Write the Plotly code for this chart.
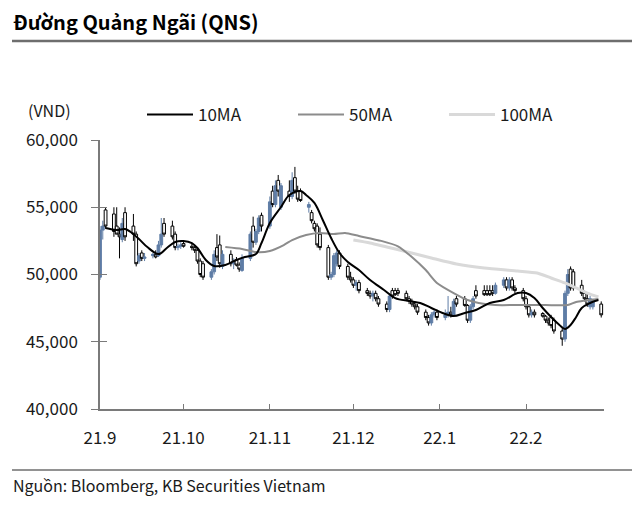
import pandas as pd
import plotly.graph_objects as go

FONT = "Noto Sans CJK KR"

# Trading days (weekdays) Sep 1 2021 - Feb 28 2022
dates = pd.bdate_range("2021-09-01", "2022-02-28")

# OHLC in thousand VND, one per weekday
open_k = [
    49.8, 53.3, 54.8, 54.5, 53.6, 53.0, 52.6, 54.6, 53.6, 53.0, 51.0, 51.6, 51.2, 51.4, 51.5, 51.4, 52.2, 53.8, 53.6, 53.0, 52.0, 52.1,
    52.3, 52.1, 52.0, 51.8, 51.0, 50.8, 49.8, 50.2, 52.0, 52.2, 50.6, 51.5, 50.8, 51.1, 50.7, 50.3, 51.2, 53.6, 52.4, 53.2, 54.4,
    53.6, 56.2, 55.2, 57.0, 55.0, 56.2, 55.8, 57.2, 56.2, 56.2, 55.0, 54.6, 53.8, 53.6, 53.0, 52.0, 49.8, 50.0, 50.8, 51.6, 50.6, 49.8,
    49.6, 49.2, 49.4, 48.8, 48.6, 48.4, 48.6, 48.2, 47.8, 47.4, 48.8, 48.8, 48.8, 48.6, 48.2, 48.0, 47.8, 47.6, 47.2, 46.8, 46.4, 47.0, 47.2,
    46.8, 47.0, 47.2, 47.0, 48.2, 48.2, 47.7, 46.6, 47.6, 48.8, 48.8, 48.8, 48.8, 48.8, 48.6, 49.2, 49.6, 49.0, 49.6, 49.0, 48.8,
    48.2, 47.6, 47.0, 47.2, 47.1, 46.9, 46.6, 46.8, 46.6, 45.8, 45.2, 48.6, 50.4, 50.2, 49.2, 48.6, 48.2, 47.6, 47.6, 47.8,
]
high_k = [
    53.6, 54.0, 55.0, 55.0, 55.0, 53.5, 54.2, 55.0, 54.5, 53.2, 51.6, 51.8, 51.6, 51.6, 51.8, 52.5, 54.2, 54.2, 54.0, 53.2, 52.3, 52.4,
    52.5, 52.3, 52.2, 51.9, 51.2, 51.0, 50.4, 51.8, 53.0, 52.9, 51.8, 51.8, 51.2, 51.3, 50.9, 51.5, 53.2, 54.3, 53.4, 54.4, 54.6,
    55.8, 56.6, 57.0, 57.4, 56.8, 57.0, 57.6, 58.0, 56.6, 56.4, 55.4, 54.8, 54.0, 53.8, 53.5, 52.2, 50.2, 51.6, 51.8, 51.8, 50.8, 50.2,
    49.8, 49.6, 49.6, 49.0, 48.8, 48.8, 48.8, 48.4, 48.0, 48.6, 49.0, 49.0, 49.0, 48.8, 48.4, 48.2, 48.0, 47.8, 47.4, 47.0, 47.2, 47.4, 47.4,
    47.4, 48.4, 47.6, 48.2, 48.4, 48.4, 47.8, 47.8, 48.4, 49.2, 49.2, 49.2, 49.2, 49.2, 49.4, 49.8, 49.8, 49.8, 49.8, 49.2, 49.0,
    48.4, 47.8, 47.4, 47.4, 47.2, 47.0, 46.8, 47.0, 46.8, 46.0, 48.8, 50.4, 50.6, 50.4, 49.6, 48.8, 48.6, 48.4, 48.2, 48.0,
]
low_k = [
    49.6, 52.6, 53.4, 52.8, 53.0, 51.2, 52.4, 52.5, 52.5, 50.6, 50.8, 51.0, 51.0, 51.2, 51.2, 51.3, 52.0, 52.8, 52.6, 51.8, 51.8, 51.9,
    52.0, 51.8, 51.6, 50.8, 49.8, 49.6, 49.6, 50.0, 51.0, 50.5, 50.4, 50.6, 50.4, 50.6, 50.2, 50.2, 51.0, 52.0, 52.2, 53.0, 53.2,
    53.4, 55.0, 55.0, 55.8, 54.8, 55.4, 55.6, 56.0, 55.4, 55.4, 54.6, 53.8, 53.2, 52.0, 51.8, 49.6, 49.6, 49.8, 50.6, 50.4, 49.6, 49.4,
    49.0, 48.8, 48.6, 48.4, 48.2, 48.0, 48.0, 47.6, 47.2, 47.2, 48.2, 48.4, 48.4, 48.0, 47.8, 47.6, 47.4, 47.0, 46.6, 46.2, 46.2, 46.8, 46.6,
    46.6, 46.8, 46.8, 46.9, 47.6, 47.6, 46.4, 46.4, 47.4, 48.2, 48.4, 48.4, 48.4, 48.4, 48.5, 49.0, 48.8, 48.8, 48.8, 48.6, 48.0,
    47.4, 46.8, 46.8, 46.8, 46.8, 46.4, 46.2, 46.0, 45.6, 44.7, 45.0, 48.4, 48.8, 48.8, 48.4, 48.0, 47.6, 47.4, 47.4, 46.8,
]
close_k = [
    53.3, 53.6, 53.6, 53.2, 53.0, 52.8, 53.8, 52.8, 53.0, 50.8, 51.4, 51.2, 51.3, 51.5, 51.3, 52.2, 53.0, 53.0, 52.8, 52.0, 52.1, 52.2,
    52.1, 52.0, 51.8, 51.0, 50.0, 49.8, 50.2, 51.5, 51.3, 50.8, 51.5, 50.8, 51.0, 50.7, 50.4, 51.2, 53.0, 52.4, 53.2, 54.2, 53.6,
    55.4, 55.2, 56.6, 56.2, 56.6, 55.8, 57.0, 56.2, 55.6, 55.5, 55.2, 54.0, 53.4, 52.2, 52.0, 49.8, 50.0, 51.4, 51.6, 50.6, 49.8, 49.6,
    49.2, 49.4, 48.8, 48.6, 48.4, 48.6, 48.2, 47.8, 47.4, 48.4, 48.4, 48.5, 48.6, 48.2, 48.0, 47.8, 47.6, 47.2, 46.8, 46.4, 47.0, 47.2, 46.8,
    47.0, 47.2, 47.0, 48.0, 47.8, 47.7, 46.6, 47.6, 48.2, 48.4, 48.5, 48.5, 48.5, 48.6, 49.2, 49.6, 49.0, 49.6, 49.0, 48.8, 48.2,
    47.6, 47.0, 47.2, 47.0, 46.9, 46.6, 46.4, 46.2, 45.8, 45.2, 48.6, 50.0, 49.0, 49.0, 48.6, 48.2, 47.8, 48.2, 48.0, 47.0,
]

# Moving averages (thousand VND)
ma10_dates = ["2021-09-03", "2021-09-07", "2021-09-10", "2021-09-12", "2021-09-15", "2021-09-18", "2021-09-22",
              "2021-09-25", "2021-09-28", "2021-10-01", "2021-10-04", "2021-10-06", "2021-10-09", "2021-10-12",
              "2021-10-16", "2021-10-20", "2021-10-23", "2021-10-27", "2021-10-29", "2021-11-01", "2021-11-05",
              "2021-11-08", "2021-11-12", "2021-11-14", "2021-11-17", "2021-11-20", "2021-11-23", "2021-11-26",
              "2021-11-29", "2021-12-03", "2021-12-07", "2021-12-12", "2021-12-16", "2021-12-21", "2021-12-25",
              "2021-12-29", "2022-01-02", "2022-01-06", "2022-01-10", "2022-01-14", "2022-01-19", "2022-01-24",
              "2022-01-29", "2022-02-01", "2022-02-04", "2022-02-07", "2022-02-10", "2022-02-13", "2022-02-15",
              "2022-02-17", "2022-02-19", "2022-02-21", "2022-02-24", "2022-02-27"]
ma10_k = [53.46, 53.31, 53.38, 53.16, 52.64, 52.04, 51.52, 51.97, 52.42, 52.49, 52.34, 51.97, 51.08, 50.63,
          50.71, 51.08, 51.30, 51.52, 52.34, 53.83, 55.02, 55.91, 56.21, 55.91, 55.32, 54.05, 52.71, 51.60,
          50.93, 50.33, 49.59, 48.85, 48.25, 48.03, 47.88, 47.51, 47.14, 46.91, 47.14, 47.36, 47.88, 48.10,
          48.62, 48.62, 48.25, 47.51, 46.84, 46.25, 45.95, 46.25, 46.84, 47.51, 47.88, 48.10]

ma50_dates = ["2021-10-16", "2021-10-22", "2021-10-27", "2021-11-01", "2021-11-06", "2021-11-09", "2021-11-14",
              "2021-11-19", "2021-11-24", "2021-11-28", "2021-12-03", "2021-12-11", "2021-12-17", "2021-12-22",
              "2021-12-27", "2021-12-31", "2022-01-06", "2022-01-11", "2022-01-15", "2022-01-21", "2022-01-29",
              "2022-02-08", "2022-02-16", "2022-02-19", "2022-02-27"]
ma50_k = [52.04, 51.90, 51.67, 51.75, 52.19, 52.56, 52.94, 53.09, 53.01, 53.09, 52.86, 52.50, 52.10, 51.30,
          50.33, 49.37, 48.62, 48.10, 47.88, 47.73, 47.73, 47.73, 47.73, 47.96, 48.18]

ma100_dates = ["2021-12-01", "2021-12-07", "2021-12-13", "2021-12-19", "2021-12-29", "2022-01-07", "2022-01-17",
               "2022-01-29", "2022-02-05", "2022-02-10", "2022-02-15", "2022-02-19", "2022-02-23", "2022-02-27"]
ma100_k = [52.56, 52.34, 52.04, 51.75, 51.23, 50.78, 50.48, 50.26, 50.11, 49.74, 49.37, 49.00, 48.62, 48.33]

tick_dates = ["2021-09-01", "2021-10-01", "2021-11-01", "2021-12-01", "2022-01-01", "2022-02-01", "2022-03-01"]
tick_text = ["21.9", "21.10", "21.11", "21.12", "22.1", "22.2", ""]
y_ticks = [40000, 45000, 50000, 55000, 60000]
y_text = ["40,000", "45,000", "50,000", "55,000", "60,000"]

K = lambda arr: [v * 1000 for v in arr]

BLUE = "#5F7DA6"
AXIS = "#7A7A7A"

fig = go.Figure()
fig.add_trace(go.Scatter(x=ma100_dates, y=K(ma100_k), mode="lines", name="100MA",
                         line=dict(color="#D9D9D9", width=3, shape="spline", smoothing=0.6), legendrank=3))
fig.add_trace(go.Scatter(x=ma50_dates, y=K(ma50_k), mode="lines", name="50MA",
                         line=dict(color="#8C8C8C", width=2, shape="spline", smoothing=0.6), legendrank=2))
fig.add_trace(go.Candlestick(x=dates, open=K(open_k), high=K(high_k), low=K(low_k), close=K(close_k),
                             showlegend=False, whiskerwidth=0,
                             increasing=dict(line=dict(color=BLUE, width=1), fillcolor=BLUE),
                             decreasing=dict(line=dict(color="#000000", width=1), fillcolor="#FFFFFF")))
fig.add_trace(go.Scatter(x=ma10_dates, y=K(ma10_k), mode="lines", name="10MA", yaxis="y2",
                         line=dict(color="#000000", width=2, shape="spline"), legendrank=1))

# page body has an 8px offset; figure laid out in window pixel coordinates minus 8
OFF = 8
W, H = 640 - 2 * OFF, 505 - 2 * OFF
L, T = 100 - OFF, 140 - OFF
R = W - (604 - OFF)
B = H - (409 - OFF)
PW, PH = W - L - R, H - T - B
px = lambda x: (x - OFF - L) / PW
py = lambda y: (H - B - (y - OFF)) / PH

fig.update_layout(
    width=W, height=H,
    margin=dict(l=L, r=R, t=T, b=B),
    paper_bgcolor="white", plot_bgcolor="white",
    font=dict(family=FONT, size=17, color="#1a1a1a"),
    showlegend=True, boxgap=0, boxgroupgap=0,
    legend=dict(orientation="h", x=px(142), y=py(115), xanchor="left", yanchor="middle",
                itemwidth=46, entrywidth=90, entrywidthmode="pixels", font=dict(size=17),
                bgcolor="rgba(0,0,0,0)", traceorder="normal"),
    xaxis=dict(type="date", range=["2021-09-01", "2022-03-01"], rangeslider=dict(visible=False),
               tickvals=tick_dates, ticktext=tick_text, ticks="inside", ticklen=5, tickcolor=AXIS,
               showline=True, linecolor=AXIS, linewidth=1.5, showgrid=False, zeroline=False,
               ticklabelstandoff=13, tickfont=dict(size=17)),
    yaxis=dict(range=[40000, 60000], tickvals=y_ticks, ticktext=y_text, ticks="outside", ticklen=7,
               tickcolor=AXIS, showline=True, linecolor=AXIS, linewidth=1.5, showgrid=False,
               zeroline=False, ticklabelstandoff=10, tickfont=dict(size=17)),
    yaxis2=dict(overlaying="y", matches="y", range=[40000, 60000], tickvals=y_ticks, ticks="inside",
                ticklen=7, tickcolor=AXIS, showticklabels=False, showline=False, showgrid=False,
                zeroline=False),
)

fig.add_annotation(text="<b>Đường Quảng Ngãi (QNS)</b>", x=px(12), y=py(22), xref="paper", yref="paper",
                   xanchor="left", yanchor="middle", showarrow=False, borderpad=0,
                   font=dict(size=20, color="#000000"))
fig.add_annotation(text="(VND)", x=px(49), y=py(110), xref="paper", yref="paper",
                   xanchor="center", yanchor="middle", showarrow=False, font=dict(size=16))
fig.add_annotation(text="Nguồn: Bloomberg, KB Securities Vietnam", x=px(12), y=py(485), xref="paper",
                   yref="paper", xanchor="left", yanchor="middle", showarrow=False, borderpad=0,
                   font=dict(size=16))
fig.add_shape(type="line", xref="paper", yref="paper", x0=px(12), x1=px(632), y0=py(41), y1=py(41),
              line=dict(color="#6E6E6E", width=2.5))
fig.add_shape(type="line", xref="paper", yref="paper", x0=px(12), x1=px(632), y0=py(470), y1=py(470),
              line=dict(color="#6E6E6E", width=1.5))

fig.write_html("out.html")
